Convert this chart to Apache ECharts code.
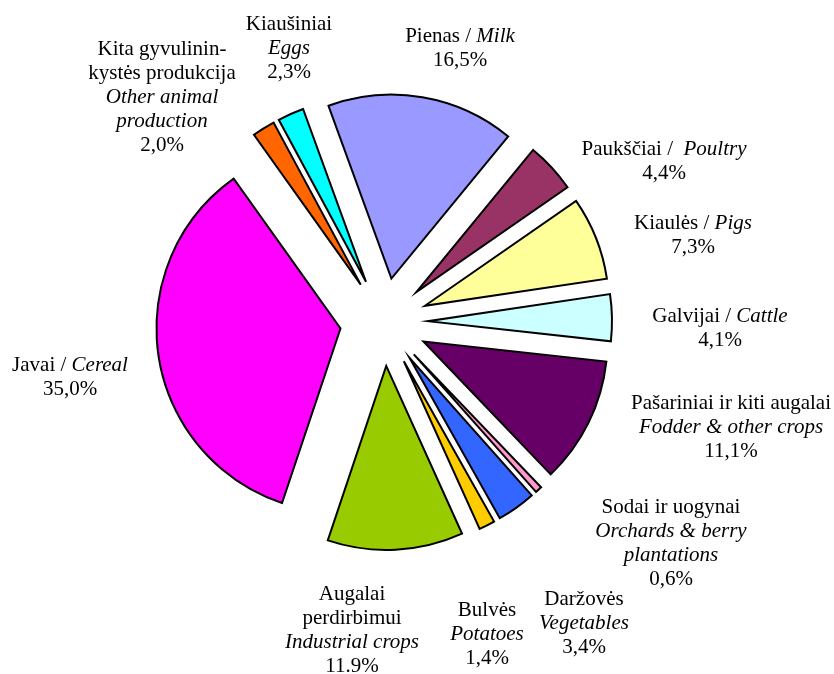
<!DOCTYPE html>
<html>
<head>
<meta charset="utf-8">
<script src="https://cdn.jsdelivr.net/npm/echarts@6/dist/echarts.min.js"></script>
<style>
    html, body { margin: 0; padding: 0; background: #fff; }
    #chart { width: 834px; height: 674px; }
</style>
</head>
<body>
<div id="chart"></div>
<script>
// Slices, clockwise starting from Pienas / Milk
const namesLt = ['Pienas', 'Paukščiai', 'Kiaulės', 'Galvijai', 'Pašariniai ir kiti augalai',
    'Sodai ir uogynai', 'Daržovės', 'Bulvės', 'Augalai perdirbimui', 'Javai',
    'Kita gyvulininkystės produkcija', 'Kiaušiniai']
const namesEn = ['Milk', 'Poultry', 'Pigs', 'Cattle', 'Fodder & other crops',
    'Orchards & berry plantations', 'Vegetables', 'Potatoes', 'Industrial crops', 'Cereal',
    'Other animal production', 'Eggs']
const values = [16.5, 4.4, 7.3, 4.1, 11.1, 0.6, 3.4, 1.4, 11.9, 35.0, 2.0, 2.3]
const percentText = ['16,5%', '4,4%', '7,3%', '4,1%', '11,1%', '0,6%', '3,4%', '1,4%', '11.9%', '35,0%', '2,0%', '2,3%']
const colors = ['#9999FF', '#993366', '#FFFF99', '#CCFFFF', '#660066', '#FF99CC',
    '#3366FF', '#FFCC00', '#99CC00', '#FF00FF', '#FF6600', '#00FFFF']

// label text blocks (line breaks as in the original), {i|...} = italic English part
const labelText = [
    'Pienas / {i|Milk}\n' + percentText[0],
    'Paukščiai /  {i|Poultry}\n' + percentText[1],
    'Kiaulės / {i|Pigs}\n' + percentText[2],
    'Galvijai / {i|Cattle}\n' + percentText[3],
    'Pašariniai ir kiti augalai\n{i|Fodder & other crops}\n' + percentText[4],
    'Sodai ir uogynai\n{i|Orchards & berry}\n{i|plantations}\n' + percentText[5],
    'Daržovės\n{i|Vegetables}\n' + percentText[6],
    'Bulvės\n{i|Potatoes}\n' + percentText[7],
    'Augalai\nperdirbimui\n{i|Industrial crops}\n' + percentText[8],
    'Javai / {i|Cereal}\n' + percentText[9],
    'Kita gyvulinin-\nkystės produkcija\n{i|Other animal}\n{i|production}\n' + percentText[10],
    'Kiaušiniai\n{i|Eggs}\n' + percentText[11]
]

// label block centres (layout only)
const labelAnchors = [
    [460, 48], [664, 161], [693, 235], [720, 328], [731, 427], [671, 543],
    [584, 623], [487, 634], [352, 630], [70, 377], [162, 97], [289, 48]
]

const chart = echarts.init(document.getElementById('chart'))

const font = 'Liberation Serif, Times New Roman, serif'
const pieCenter = [384, 322]
const pieRadius = [0, 184]
const startAngle = 110

chart.setOption({
    backgroundColor: '#ffffff',
    animation: false,
    series: [
        {
            // exploded slices
            type: 'pie',
            center: pieCenter,
            radius: pieRadius,
            startAngle: startAngle,
            clockwise: true,
            selectedMode: 'multiple',
            selectedOffset: 44,
            avoidLabelOverlap: false,
            itemStyle: {
                borderColor: '#000',
                borderWidth: 2,
                borderJoin: 'miter'
            },
            emphasis: { scale: false },
            label: { show: false },
            labelLine: { show: false },
            data: values.map((v, i) => ({
                name: namesLt[i] + ' / ' + namesEn[i],
                value: v,
                selected: true,
                itemStyle: { color: colors[i] }
            }))
        },
        {
            // same data, invisible, only carries the labels
            type: 'pie',
            center: pieCenter,
            radius: pieRadius,
            startAngle: startAngle,
            clockwise: true,
            silent: true,
            selectedMode: false,
            avoidLabelOverlap: false,
            itemStyle: { color: 'rgba(0,0,0,0)', borderWidth: 0 },
            emphasis: { disabled: true },
            label: {
                show: true,
                position: 'outside',
                color: '#000',
                fontFamily: font,
                fontSize: 21,
                lineHeight: 24,
                align: 'center',
                formatter: p => labelText[p.dataIndex],
                rich: {
                    i: { fontStyle: 'italic', fontFamily: font, fontSize: 21, lineHeight: 24, color: '#000' }
                }
            },
            labelLine: { show: false },
            labelLayout: p => ({
                x: labelAnchors[p.dataIndex][0],
                y: labelAnchors[p.dataIndex][1],
                align: 'center',
                verticalAlign: 'middle'
            }),
            data: values.map((v, i) => ({
                name: namesLt[i] + ' / ' + namesEn[i],
                value: v
            }))
        }
    ]
})

window.addEventListener('resize', () => chart.resize())
</script>
</body>
</html>
